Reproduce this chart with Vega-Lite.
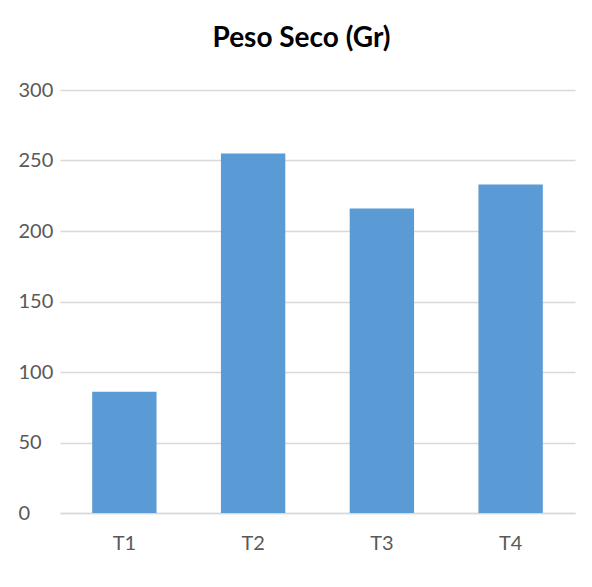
{
  "$schema": "https://vega.github.io/schema/vega-lite/v6.json",
  "width": 515,
  "height": 423,
  "autosize": {"type": "none"},
  "padding": {"left": 60, "top": 90, "right": 17, "bottom": 74},
  "background": "white",
  "title": {
    "text": "Peso Seco (Gr)",
    "font": "Lato",
    "fontSize": 28,
    "fontWeight": "bold",
    "color": "#000000",
    "anchor": "middle",
    "baseline": "alphabetic",
    "offset": 5,
    "dx": -16
  },
  "data": {
    "values": [
      {"tratamiento": "T1", "peso": 86},
      {"tratamiento": "T2", "peso": 255},
      {"tratamiento": "T3", "peso": 216},
      {"tratamiento": "T4", "peso": 233}
    ]
  },
  "mark": {"type": "bar", "color": "#5B9BD5"},
  "encoding": {
    "x": {
      "field": "tratamiento",
      "type": "nominal",
      "sort": null,
      "scale": {"paddingInner": 0.5, "paddingOuter": 0.25},
      "axis": {
        "title": null,
        "labelAngle": 0,
        "labelFont": "Lato",
        "labelFontSize": 20,
        "labelColor": "#595959",
        "labelPadding": 20,
        "ticks": false,
        "tickSize": 0,
        "domainColor": "#d9d9d9",
        "domainWidth": 1.5
      }
    },
    "y": {
      "field": "peso",
      "type": "quantitative",
      "scale": {"domain": [0, 300]},
      "axis": {
        "title": null,
        "values": [0, 50, 100, 150, 200, 250, 300],
        "labelFont": "Lato",
        "labelFontSize": 20,
        "labelColor": "#595959",
        "labelAlign": "left",
        "labelBaseline": "middle",
        "labelPadding": 42,
        "ticks": false,
        "tickSize": 0,
        "domain": false,
        "gridColor": "#d9d9d9",
        "gridWidth": 1.5
      }
    }
  },
  "config": {"view": {"stroke": null}}
}
